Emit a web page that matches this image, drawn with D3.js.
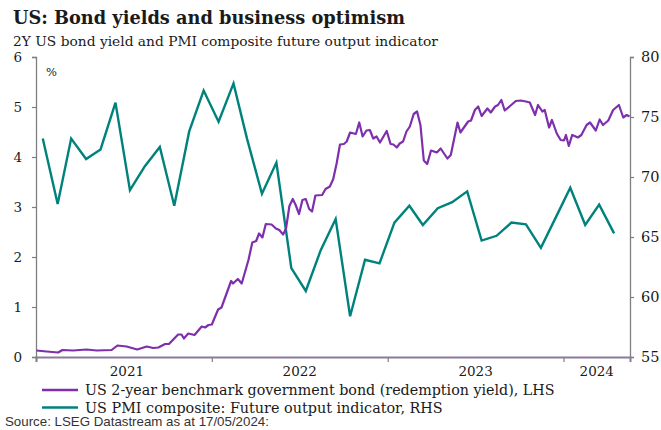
<!DOCTYPE html>
<html><head><meta charset="utf-8">
<script src="https://cdn.jsdelivr.net/npm/d3@7"></script>
<style>html,body{margin:0;padding:0;background:#fff;}svg{display:block;}</style>
</head><body>
<script>
// ---- data ----
const bondDates = ["2021-01-02","2021-01-23","2021-02-16","2021-02-25","2021-03-19","2021-04-16","2021-05-07","2021-06-07","2021-06-19","2021-07-08","2021-07-30","2021-08-19","2021-09-01","2021-09-12","2021-09-26","2021-10-04","2021-10-23","2021-10-30","2021-11-04","2021-11-13","2021-11-26","2021-12-11","2021-12-18","2021-12-25","2022-01-01","2022-01-14","2022-01-21","2022-02-10","2022-02-14","2022-02-24","2022-03-04","2022-03-18","2022-03-26","2022-04-03","2022-04-09","2022-04-16","2022-04-23","2022-05-05","2022-05-14","2022-05-21","2022-05-29","2022-06-04","2022-06-11","2022-06-18","2022-06-24","2022-07-01","2022-07-08","2022-07-15","2022-07-22","2022-07-28","2022-08-04","2022-08-18","2022-08-25","2022-09-03","2022-09-10","2022-09-17","2022-09-24","2022-10-02","2022-10-08","2022-10-15","2022-10-27","2022-11-03","2022-11-10","2022-11-18","2022-11-25","2022-12-02","2022-12-09","2022-12-16","2022-12-30","2023-01-07","2023-01-13","2023-01-20","2023-01-26","2023-02-02","2023-02-09","2023-02-16","2023-02-24","2023-03-03","2023-03-10","2023-03-17","2023-03-24","2023-04-01","2023-04-13","2023-04-21","2023-05-05","2023-05-12","2023-05-26","2023-06-01","2023-06-17","2023-06-23","2023-07-01","2023-07-08","2023-07-15","2023-07-27","2023-08-03","2023-08-12","2023-08-18","2023-08-25","2023-09-01","2023-09-12","2023-09-24","2023-10-04","2023-10-15","2023-10-23","2023-11-03","2023-11-09","2023-11-18","2023-11-23","2023-12-02","2023-12-08","2023-12-18","2023-12-26","2024-01-02","2024-01-06","2024-01-12","2024-01-19","2024-01-31","2024-02-07","2024-02-18","2024-02-25","2024-03-08","2024-03-16","2024-03-23","2024-04-03","2024-04-13","2024-04-25","2024-05-04","2024-05-11","2024-05-17"];
const bondYield = [0.13,0.11,0.09,0.14,0.13,0.15,0.13,0.14,0.23,0.21,0.15,0.21,0.18,0.19,0.26,0.26,0.45,0.45,0.37,0.47,0.44,0.61,0.59,0.64,0.65,0.95,0.99,1.52,1.47,1.56,1.47,1.94,2.29,2.32,2.47,2.39,2.66,2.65,2.57,2.54,2.45,2.57,3.02,3.16,3.04,2.86,3.14,3.16,2.96,2.91,3.23,3.24,3.36,3.41,3.56,3.87,4.25,4.26,4.31,4.49,4.46,4.69,4.41,4.53,4.54,4.37,4.41,4.29,4.52,4.26,4.25,4.19,4.27,4.31,4.51,4.61,4.86,4.91,4.64,3.93,3.86,4.13,4.09,4.17,3.97,4.04,4.69,4.49,4.71,4.73,4.94,5.01,4.82,4.97,4.89,5.01,5.04,5.14,4.93,5.02,5.12,5.13,5.11,5.09,4.84,5.04,4.91,4.94,4.59,4.74,4.47,4.34,4.33,4.44,4.22,4.44,4.39,4.44,4.64,4.69,4.53,4.75,4.64,4.73,4.94,5.04,4.79,4.84,4.81];

const pmiMonths = ["2021-01","2021-02","2021-03","2021-04","2021-05","2021-06","2021-07","2021-08","2021-09","2021-10","2021-11","2021-12","2022-01","2022-02","2022-03","2022-04","2022-05","2022-06","2022-07","2022-08","2022-09","2022-10","2022-11","2022-12","2023-01","2023-02","2023-03","2023-04","2023-05","2023-06","2023-07","2023-08","2023-09","2023-10","2023-11","2023-12","2024-01","2024-02","2024-03","2024-04"];
const pmiValues = [73.2,67.75,73.2,71.5,72.3,76.2,68.9,70.9,72.5,67.6,73.8,77.2,74.6,77.8,73.2,68.6,71.2,62.4,60.5,63.9,66.5,58.4,63.1,62.8,66.2,67.6,66.0,67.4,67.9,68.8,64.7,65.1,66.2,66.05,64.1,66.55,69.1,66.0,67.7,65.3];

const leftTicks = [0,1,2,3,4,5,6];
const rightTicks = [55,60,65,70,75,80];
const yearLabels = ["2021","2022","2023","2024"];
const dateStart = "2021-01-01", dateEnd = "2024-05-18";

const titleText = "US: Bond yields and business optimism";
const subtitleText = "2Y US bond yield and PMI composite future output indicator";
const legendLabels = ["US 2-year benchmark government bond (redemption yield), LHS","US PMI composite: Future output indicator, RHS"];
const sourceText = "Source: LSEG Datastream as at 17/05/2024:";

// ---- drawing ----
const W = 661, H = 430;
const PURPLE = "#7d2fac", TEAL = "#00827c", AXIS = "#7f7f7f";
const parse = d3.utcParse("%Y-%m-%d");
const parseM = d3.utcParse("%Y-%m");
const bond = bondDates.map((d,i)=>({date:parse(d), v:bondYield[i]}));
const pmi = pmiMonths.map((m,i)=>({date:d3.utcDay.offset(parseM(m),14), v:pmiValues[i]}));

const svg = d3.select("body").append("svg").attr("width",W).attr("height",H);

const x = d3.scaleUtc().domain([parse(dateStart), parse(dateEnd)]).range([36,630]);
const yL = d3.scaleLinear().domain([0,6]).range([357,57]);
const yR = d3.scaleLinear().domain([55,80]).range([357,57]);

function fit(sel, target){
  const n = sel.node(); let fs = parseFloat(sel.attr("font-size"));
  const w = n.getComputedTextLength(); sel.attr("font-size", (fs*target/w).toFixed(2));
}

// title
const t = svg.append("text").attr("x",13).attr("y",24).attr("font-family","'DejaVu Serif', serif")
  .attr("font-weight","bold").attr("font-size",18).attr("fill","#1a1a1a").text(titleText);
fit(t, 392);
const st = svg.append("text").attr("x",13).attr("y",46).attr("font-family","'DejaVu Serif', serif")
  .attr("font-size",12).attr("fill","#1a1a1a").text(subtitleText);
fit(st, 425);

// axes
const gL = svg.append("g").attr("transform","translate(36,0)")
  .call(d3.axisLeft(yL).tickValues(leftTicks).tickSize(4).tickPadding(10).tickFormat(d3.format("d")));
const gR = svg.append("g").attr("transform","translate(630,0)")
  .call(d3.axisRight(yR).tickValues(rightTicks).tickSize(4).tickPadding(7).tickFormat(d3.format("d")));
const yearStarts = yearLabels.map(y=>parse(y+"-01-01"));
const gB = svg.append("g").attr("transform","translate(0,357)")
  .call(d3.axisBottom(x).tickValues(yearStarts).tickSize(5).tickFormat(""));
[gL,gR,gB].forEach(g=>{
  g.select(".domain").attr("stroke",AXIS).attr("stroke-width",1.3);
  g.selectAll(".tick line").attr("stroke",AXIS).attr("stroke-width",1.2);
  g.selectAll("text").attr("font-family","'DejaVu Serif', serif").attr("font-size",13.5).attr("fill","#1a1a1a");
});
gB.select(".domain").attr("stroke","#8c7a9c").attr("stroke-width",2);
gR.selectAll("text").attr("font-size",14.5);

// year labels centred within each year (clipped to domain)
yearLabels.forEach((y,i)=>{
  const a = parse(y+"-01-01");
  const b = i<yearLabels.length-1 ? parse(yearLabels[i+1]+"-01-01") : x.domain()[1];
  svg.append("text").attr("x",(x(a)+x(b))/2 + (i===0?3:0)).attr("y",376).attr("text-anchor","middle")
    .attr("font-family","'DejaVu Serif', serif").attr("font-size",13.5).attr("fill","#1a1a1a").text(y);
});

svg.append("text").attr("x",46).attr("y",76).attr("font-family","'DejaVu Serif', serif")
  .attr("font-size",11.5).attr("fill","#1a1a1a").text("%");

// lines
const lineL = d3.line().x(d=>x(d.date)).y(d=>yL(d.v));
const lineR = d3.line().x(d=>x(d.date)).y(d=>yR(d.v));
svg.append("path").datum(pmi).attr("d",lineR).attr("fill","none").attr("stroke",TEAL)
  .attr("stroke-width",2.4).attr("stroke-linejoin","miter");
svg.append("path").datum(bond).attr("d",lineL).attr("fill","none").attr("stroke",PURPLE)
  .attr("stroke-width",2.2).attr("stroke-linejoin","round");

// legend
const legCols = [PURPLE, TEAL];
legendLabels.forEach((lab,i)=>{
  const yy = 390 + i*17.5;
  svg.append("line").attr("x1",42).attr("x2",78).attr("y1",yy).attr("y2",yy)
    .attr("stroke",legCols[i]).attr("stroke-width",2.5);
  const tx = svg.append("text").attr("x",85).attr("y",yy+5).attr("font-family","'DejaVu Serif', serif")
    .attr("font-size",14).attr("fill","#1a1a1a").text(lab);
  fit(tx, i===0 ? 470 : 358);
});

const src = svg.append("text").attr("x",5).attr("y",426).attr("font-family","'Liberation Sans', Arial, sans-serif")
  .attr("font-size",11.5).attr("fill","#333").text(sourceText);
fit(src, 264);
</script>
</body></html>
